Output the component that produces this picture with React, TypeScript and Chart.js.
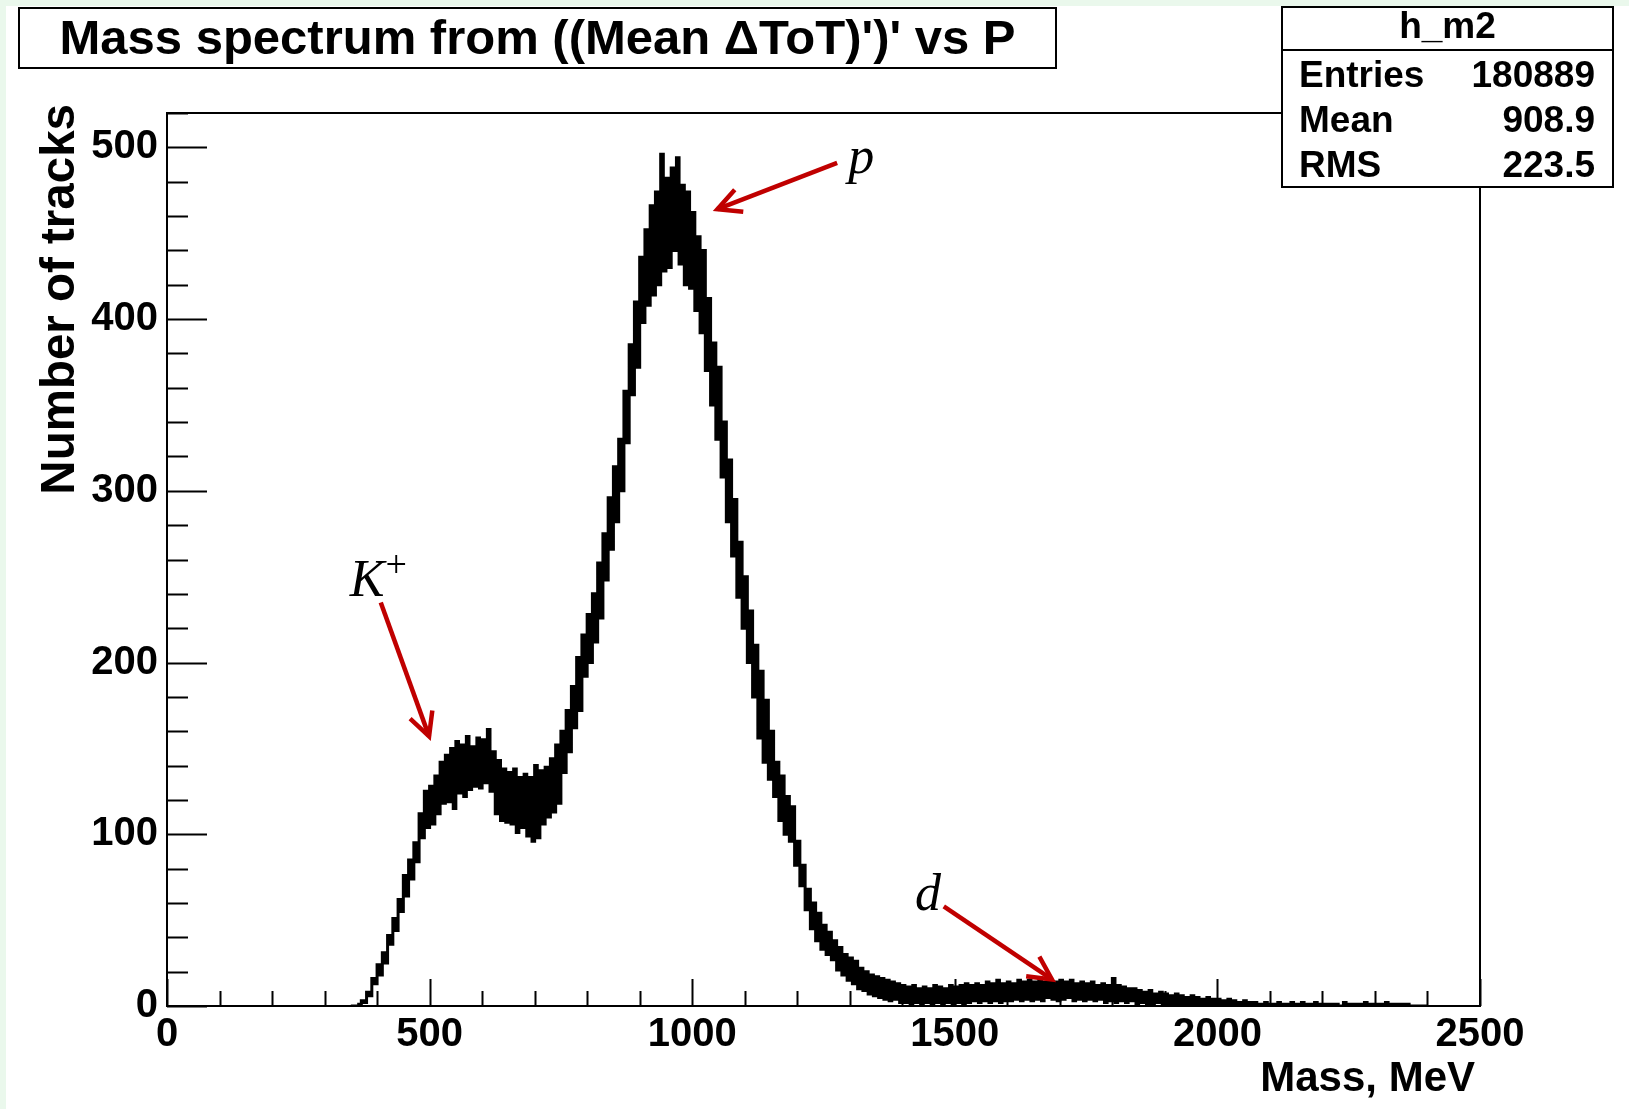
import React, { useEffect, useRef } from "react";
import { Chart, registerables } from "chart.js";

Chart.register(...registerables);

// ---------------- data ----------------
// histogram: left edge of first bin and bin width (MeV)
const BIN_START = 350;
const BIN_WIDTH = 5;
// counts per 5 MeV bin, starting at 350 MeV (rows of 50 MeV)
const counts: number[] = [
  0, 0, 0, 1, 3, 2, 8, 6, 16, 13, // 350
  24, 18, 31, 25, 41, 36, 51, 44, 62, 55, // 400
  76, 64, 85, 74, 95, 84, 112, 98, 125, 104, // 450
  128, 106, 134, 112, 142, 118, 146, 119, 150, 115, // 500
  154, 124, 152, 122, 157, 126, 151, 128, 156, 127, // 550
  155, 130, 161, 125, 148, 112, 143, 108, 138, 107, // 600
  136, 106, 138, 101, 133, 104, 135, 99, 133, 96, // 650
  140, 98, 137, 106, 139, 110, 144, 113, 152, 118, // 700
  160, 136, 172, 148, 186, 162, 203, 172, 216, 192, // 750
  228, 200, 240, 212, 258, 226, 275, 248, 296, 266, // 800
  314, 282, 330, 300, 358, 328, 385, 356, 410, 372, // 850
  436, 398, 452, 408, 466, 414, 474, 420, 496, 428, // 900
  482, 430, 488, 440, 494, 432, 478, 420, 474, 418, // 950
  462, 405, 448, 392, 440, 370, 412, 350, 386, 330, // 1000
  372, 308, 340, 282, 318, 262, 295, 238, 270, 220, // 1050
  250, 200, 230, 180, 210, 156, 195, 142, 178, 132, // 1100
  160, 122, 142, 108, 134, 100, 122, 96, 116, 82, // 1150
  96, 70, 82, 56, 68, 45, 60, 38, 54, 33, // 1200
  47, 30, 43, 27, 38, 21, 34, 18, 30, 15, // 1250
  28, 13, 26, 10, 22, 9, 20, 7, 18, 6, // 1300
  17, 5, 16, 4, 15, 3, 14, 4, 13, 2, // 1350
  12, 2, 11, 1, 12, 2, 10, 1, 11, 2, // 1400
  10, 1, 12, 2, 11, 1, 10, 2, 12, 1, // 1450
  11, 2, 12, 1, 13, 2, 12, 3, 13, 2, // 1500
  12, 3, 14, 2, 13, 3, 15, 2, 13, 3, // 1550
  14, 3, 13, 4, 15, 3, 14, 4, 15, 3, // 1600
  14, 4, 16, 3, 14, 5, 15, 4, 14, 3, // 1650
  15, 4, 14, 5, 15, 3, 13, 4, 14, 3, // 1700
  13, 4, 14, 3, 12, 4, 13, 2, 12, 3, // 1750
  16, 2, 12, 3, 11, 2, 10, 3, 10, 1, // 1800
  9, 2, 8, 1, 9, 1, 7, 2, 8, 1, // 1850
  7, 1, 6, 1, 7, 0, 6, 1, 5, 0, // 1900
  6, 1, 5, 0, 4, 1, 5, 0, 4, 1, // 1950
  4, 0, 3, 1, 4, 0, 3, 0, 2, 1, // 2000
  3, 0, 2, 1, 2, 0, 1, 1, 2, 0, // 2050
  1, 1, 0, 2, 1, 0, 1, 0, 2, 1, // 2100
  1, 0, 2, 1, 0, 1, 0, 2, 1, 0, // 2150
  1, 0, 1, 1, 0, 1, 0, 0, 2, 1, // 2200
  0, 1, 0, 1, 1, 0, 2, 1, 0, 1, // 2250
  1, 0, 1, 0, 2, 1, 0, 1, 0, 1, // 2300
  1, 0, 1, 0, 0, 0, 0, 0, 0, 0, // 2350
];

const X_MIN = 0;
const X_MAX = 2500;
const Y_MIN = 0;
const Y_MAX = 520;
const xTickValues = [0, 500, 1000, 1500, 2000, 2500];
const yTickValues = [0, 100, 200, 300, 400, 500];

const titleText = "Mass spectrum from ((Mean \u0394ToT)')' vs P";
const xAxisTitle = "Mass, MeV";
const yAxisTitle = "Number of tracks";
const statsName = "h_m2";
const statsLabels = ["Entries", "Mean", "RMS"];
const statsValues = ["180889", "908.9", "223.5"];

// annotation labels and arrows, in data units (mass, tracks)
const annLabels = ["K", "p", "d"];
const annSup = ["+", "", ""];
const annLabelMass = [348, 1297, 1424];
const annLabelCount = [239, 485, 56];
const annFromMass = [407, 1276, 1479];
const annFromCount = [235, 491, 58];
const annToMass = [499, 1048, 1685];
const annToCount = [157, 464, 15.5];

// ---------------- styling ----------------
const SANS = '"Liberation Sans", Arial, Helvetica, sans-serif';
const SERIF = '"Liberation Serif", "Times New Roman", serif';
const ARROW_RED = "#C00000";
const BG_GREEN = "#EAF8EC";

const rootStyle = {
  id: "rootStyle",
  beforeDraw(chart: any) {
    const { ctx, width, height } = chart;
    ctx.save();
    ctx.fillStyle = BG_GREEN;
    ctx.fillRect(0, 0, width, height);
    ctx.fillStyle = "#ffffff";
    ctx.fillRect(6, 6, width - 6, height - 6);
    ctx.restore();
  },
  afterDraw(chart: any) {
    const { ctx, chartArea: a } = chart;
    const xs = chart.scales.x;
    const ys = chart.scales.y;
    ctx.save();
    ctx.strokeStyle = "#000";
    ctx.lineWidth = 2;
    ctx.strokeRect(a.left, a.top, a.right - a.left, a.bottom - a.top);

    // inward ticks (ROOT style)
    ctx.beginPath();
    for (let v = X_MIN; v <= X_MAX; v += 100) {
      const px = Math.round(xs.getPixelForValue(v)) + 0.5;
      const len = v % 500 === 0 ? 27 : 15;
      ctx.moveTo(px, a.bottom);
      ctx.lineTo(px, a.bottom - len);
    }
    for (let v = Y_MIN; v <= Y_MAX; v += 20) {
      const py = Math.round(ys.getPixelForValue(v)) + 0.5;
      const len = v % 100 === 0 ? 40 : 21;
      ctx.moveTo(a.left, py);
      ctx.lineTo(a.left + len, py);
    }
    ctx.stroke();

    // axis titles
    ctx.fillStyle = "#000";
    ctx.font = `bold 42px ${SANS}`;
    ctx.textAlign = "right";
    ctx.textBaseline = "alphabetic";
    ctx.fillText(xAxisTitle, a.right - 5, 1091);

    ctx.save();
    ctx.translate(74, a.top - 9);
    ctx.rotate(-Math.PI / 2);
    ctx.font = `bold 47.5px ${SANS}`;
    ctx.textAlign = "right";
    ctx.fillText(yAxisTitle, 0, 0);
    ctx.restore();

    // title box
    ctx.fillStyle = "#fff";
    ctx.fillRect(19, 8, 1037, 60);
    ctx.strokeRect(19, 8, 1037, 60);
    ctx.fillStyle = "#000";
    ctx.font = `bold 49px ${SANS}`;
    ctx.textAlign = "center";
    ctx.fillText(titleText, 537.5, 54);

    // stats box
    const sx = 1282, sy = 7, sw = 331, sh = 180;
    ctx.fillStyle = "#fff";
    ctx.fillRect(sx, sy, sw, sh);
    ctx.strokeRect(sx, sy, sw, sh);
    ctx.beginPath();
    ctx.moveTo(sx, 50);
    ctx.lineTo(sx + sw, 50);
    ctx.stroke();
    ctx.fillStyle = "#000";
    ctx.font = `bold 37px ${SANS}`;
    ctx.textAlign = "center";
    ctx.fillText(statsName, sx + sw / 2, 37.5);
    const rowBase = [87, 132, 176.5];
    statsLabels.forEach((lab, i) => {
      ctx.textAlign = "left";
      ctx.fillText(lab, 1299, rowBase[i]);
      ctx.textAlign = "right";
      ctx.fillText(statsValues[i], 1595, rowBase[i]);
    });

    // annotations
    annLabels.forEach((lab, i) => {
      const lx = xs.getPixelForValue(annLabelMass[i]);
      const ly = ys.getPixelForValue(annLabelCount[i]);
      ctx.fillStyle = "#000";
      ctx.font = `italic 52px ${SERIF}`;
      ctx.textAlign = "left";
      ctx.fillText(lab, lx, ly);
      if (annSup[i]) {
        const w = ctx.measureText(lab).width;
        ctx.font = `38px ${SERIF}`;
        ctx.fillText(annSup[i], lx + w + 1, ly - 19);
      }
      const x0 = xs.getPixelForValue(annFromMass[i]);
      const y0 = ys.getPixelForValue(annFromCount[i]);
      const x1 = xs.getPixelForValue(annToMass[i]);
      const y1 = ys.getPixelForValue(annToCount[i]);
      const ang = Math.atan2(y0 - y1, x0 - x1);
      const headLen = 26;
      const spread = (27 * Math.PI) / 180;
      ctx.strokeStyle = ARROW_RED;
      ctx.lineWidth = 4.5;
      ctx.lineCap = "butt";
      ctx.lineJoin = "miter";
      ctx.beginPath();
      ctx.moveTo(x0, y0);
      ctx.lineTo(x1, y1);
      ctx.stroke();
      ctx.beginPath();
      ctx.moveTo(x1 + headLen * Math.cos(ang + spread), y1 + headLen * Math.sin(ang + spread));
      ctx.lineTo(x1, y1);
      ctx.lineTo(x1 + headLen * Math.cos(ang - spread), y1 + headLen * Math.sin(ang - spread));
      ctx.stroke();
    });
    ctx.restore();
  },
};

export default function App() {
  const ref = useRef<HTMLCanvasElement>(null);
  useEffect(() => {
    document.body.style.margin = "0";
    const canvas = ref.current;
    if (!canvas) return;
    const pts = counts.map((c, i) => ({ x: BIN_START + i * BIN_WIDTH, y: c }));
    pts.push({ x: BIN_START + counts.length * BIN_WIDTH, y: 0 });

    const tickFont = { family: SANS, size: 40, weight: "bold" as const };
    const chart = new Chart(canvas, {
      type: "line",
      data: {
        datasets: [
          {
            data: pts,
            borderColor: "#000",
            borderWidth: 3,
            pointRadius: 0,
            stepped: "before",
            fill: false,
            tension: 0,
          },
        ],
      },
      options: {
        responsive: false,
        animation: false,
        devicePixelRatio: 1,
        layout: { padding: { left: 0, top: 113, right: 149, bottom: 0 } },
        plugins: {
          legend: { display: false },
          tooltip: { enabled: false },
          title: { display: false },
        },
        scales: {
          x: {
            type: "linear",
            min: X_MIN,
            max: X_MAX,
            afterFit: (s: any) => {
              s.height = 103;
            },
            afterBuildTicks: (s: any) => {
              s.ticks = xTickValues.map((v) => ({ value: v }));
            },
            grid: { display: false, drawTicks: false },
            border: { display: false },
            ticks: {
              autoSkip: false,
              maxRotation: 0,
              minRotation: 0,
              padding: 5,
              color: "#000",
              font: tickFont,
              callback: (v: any) => String(v),
            },
          },
          y: {
            type: "linear",
            min: Y_MIN,
            max: Y_MAX,
            afterFit: (s: any) => {
              s.width = 167;
            },
            afterBuildTicks: (s: any) => {
              s.ticks = yTickValues.map((v) => ({ value: v }));
            },
            grid: { display: false, drawTicks: false },
            border: { display: false },
            ticks: {
              autoSkip: false,
              padding: 9,
              color: "#000",
              font: tickFont,
              callback: (v: any) => String(v),
            },
          },
        },
      },
      plugins: [rootStyle],
    } as any);
    return () => chart.destroy();
  }, []);
  return (
    <canvas
      ref={ref}
      width={1629}
      height={1109}
      style={{ display: "block", width: "1629px", height: "1109px" }}
    />
  );
}
